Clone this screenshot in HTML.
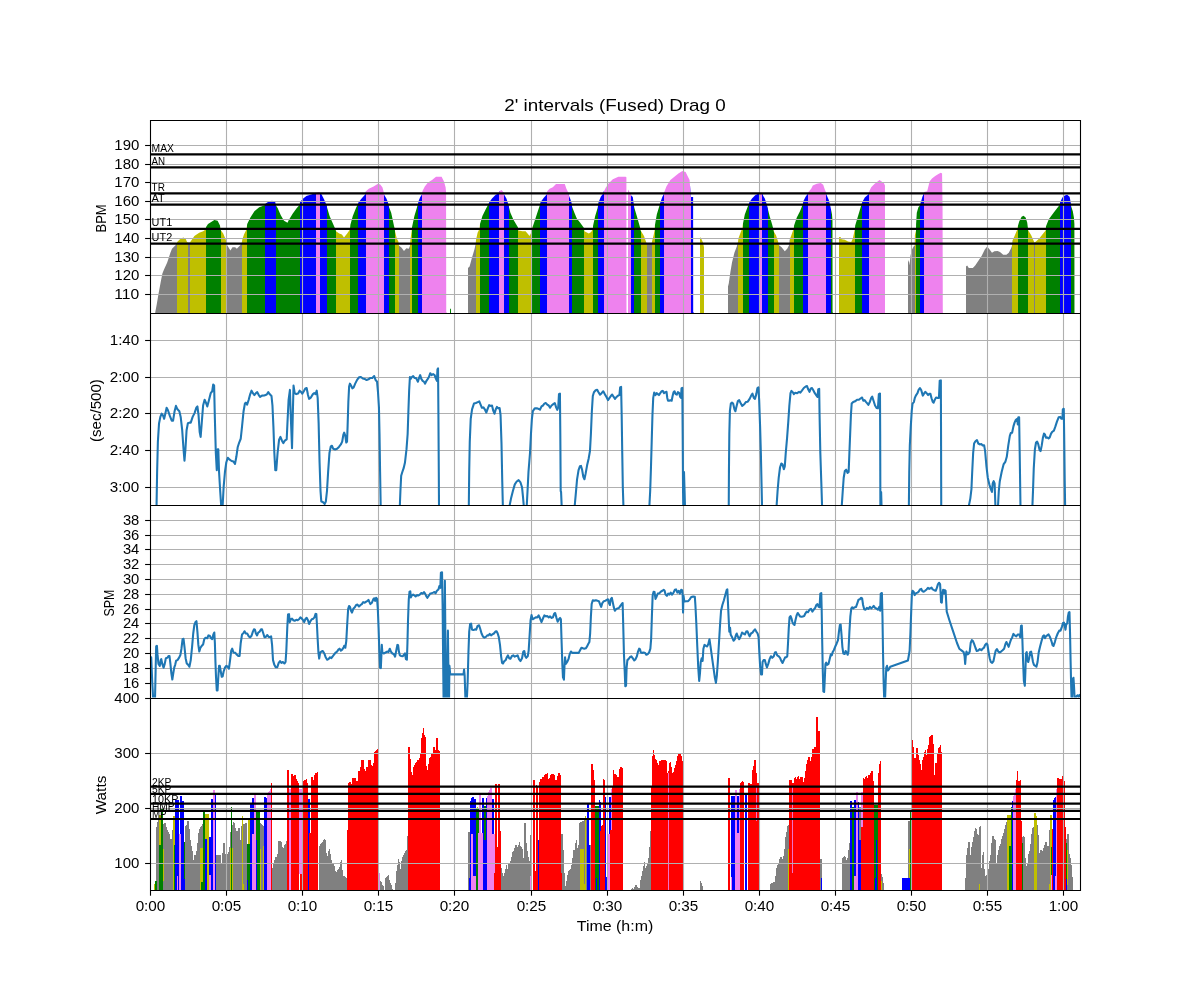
<!DOCTYPE html>
<html><head><meta charset="utf-8"><title>2' intervals (Fused) Drag 0</title>
<style>html,body{margin:0;padding:0;background:#fff}svg{display:block;will-change:transform}</style></head>
<body>
<svg width="1200" height="1000" viewBox="0 0 1200 1000" font-family="Liberation Sans, sans-serif">
<rect width="1200" height="1000" fill="#fff"/>
<defs>
<clipPath id="c0"><rect x="150" y="120" width="930" height="192.5"/></clipPath>
<clipPath id="c1"><rect x="150" y="312.5" width="930" height="192.5"/></clipPath>
<clipPath id="c2"><rect x="150" y="505" width="930" height="192.5"/></clipPath>
<clipPath id="c3"><rect x="150" y="697.5" width="930" height="192.5"/></clipPath>
<clipPath id="hr"><path d="M155.2 313 L155.2 312.6 L156.8 304 L158.4 294.4 L160.8 281.6 L162.4 273.6 L164 269.6 L167.2 262.4 L170.4 252.8 L172 248.8 L176 244.8 L177.6 241.6 L180 239.2 L183.2 237.6 L185.6 238.4 L187.2 242.4 L189.92 242.4 L194.4 236 L199.2 232.8 L203.2 231.2 L205.6 229.6 L205.92 227.2 L208 224 L212 221.6 L214.4 220 L217.6 220.8 L220 225.6 L220.32 229.6 L223.2 233.6 L225.92 240 L226.4 244 L228 246.4 L230.4 250.4 L232.48 247.2 L235.2 247.2 L236.8 248.8 L240 245.6 L241.6 243.2 L242.4 239.2 L244 234.4 L246.4 229.6 L247.2 224 L250.4 217.6 L254.4 211.2 L259.2 207.2 L264.8 205.28 L265.6 203.52 L268 201.92 L272 200.8 L275.2 201.92 L276 205.6 L277.6 208 L280.8 215.2 L284 220.8 L287.52 222.72 L288.8 220 L292.8 213.6 L296.8 208 L299.68 204.8 L300 201.92 L303.2 198.4 L306.4 196 L311.2 194.4 L316 192.8 L319.2 192 L321.6 194.4 L324 199.2 L326.4 204.8 L327.2 208 L329.6 216 L332 221.6 L334.88 228 L336 231.2 L339.2 233.6 L341.92 234.4 L344 237.6 L347.2 233.6 L349.92 229.6 L350.4 224.8 L352.8 216 L356 208 L357.92 204 L358.4 202.4 L361.6 198.4 L365.6 193.92 L365.92 191.2 L368.8 188.8 L373.6 186.4 L377.6 184 L380 184.32 L382.4 187.2 L383.52 191.2 L384 194.4 L386.4 198.4 L388 202.4 L388.8 206.4 L391.2 212.8 L393.6 224 L394.4 228 L395.2 232 L396.8 238.4 L398.4 241.6 L398.88 245.6 L401.6 247.68 L404 250.88 L406.4 248.32 L408.8 248.8 L410.08 245.6 L410.4 240 L411.52 232 L412 227.2 L414.4 216 L416.8 208 L418.08 203.2 L418.4 201.6 L420 197.6 L421.92 194.4 L422.4 191.2 L424.8 186.4 L428 182.4 L432 180 L436 176.8 L441.6 176.8 L444 181.6 L445.6 187.2 L446.08 192 L446.24 312.6 L449.76 312.6 L449.92 308.8 L450.88 308.8 L451.04 312.6 L467.84 312.6 L468 268 L469.6 266.4 L472 257.6 L474.4 249.6 L475.68 244 L476 240 L477.6 232.8 L479.52 228.8 L480 224 L482.4 216 L485.6 209.6 L488.48 204 L489.12 202.4 L492 198.4 L495.2 195.2 L498.88 192.8 L499.36 191.2 L501.6 189.92 L503.2 192 L503.52 193.6 L506.4 198.4 L508 203.2 L508.8 206.4 L510.4 212.8 L513.6 220 L517.92 227.2 L518.4 230.4 L522.4 231.2 L525.6 231.2 L529.6 236 L531.52 232 L532.32 228.8 L532.8 226.4 L535.2 219.2 L538.4 209.6 L540.48 203.2 L540.96 201.6 L544 197.6 L546.72 194.4 L547.2 191.2 L549.6 188.8 L552.8 187.2 L556 184 L564.8 184 L566.4 188.8 L568 192 L568.48 194.4 L570.4 199.2 L571.68 203.2 L572 206.4 L574.4 212.8 L576.8 218.4 L580 222.4 L584 228 L584.48 231.2 L588.8 233.6 L591.2 232 L592.8 228.8 L593.12 225.6 L595.2 216 L597.6 208 L598.4 204 L598.88 201.6 L600.8 196.8 L603.2 193.6 L603.68 191.2 L604 191.2 L605.6 188 L608.8 183.2 L612.8 179.2 L618.4 176.8 L625.6 176.8 L626.4 177.28 L626.48 312.6 L627.92 312.6 L628 189.6 L630.88 194.4 L631.2 195.52 L632.8 197.12 L634.08 206.4 L634.4 208 L636.8 216 L640 227.2 L640.48 230.4 L641.12 231.2 L644 236 L645.92 241.6 L646.4 243.52 L651.68 243.52 L652 241.6 L653.6 235.2 L654.56 230.4 L654.88 225.6 L656.8 214.4 L659.2 206.4 L660 203.2 L660.32 202.4 L662.4 196.8 L663.68 194.4 L664 192.8 L666.4 186.4 L670.4 180 L674.4 176.8 L678.4 173.6 L682.4 170.88 L685.6 172 L687.2 175.2 L689.6 180 L690.4 190.4 L690.48 197.12 L693.12 197.12 L693.2 312.6 L699.6 312.6 L699.68 238.4 L700.48 237.28 L701.92 240 L703.2 243.2 L704 247.2 L704.08 312.6 L727.92 312.6 L728 286.4 L728.8 283.2 L730.4 272 L732 262.4 L734.4 252.8 L736.8 246.4 L738.08 241.6 L738.4 238.4 L740.8 232 L742.4 228 L742.88 224 L744.8 214.4 L747.2 208 L748.8 204 L749.28 202.4 L752 198.4 L755.2 195.2 L758.4 193.6 L758.72 192.8 L761.6 192.8 L762.4 193.28 L762.4 194.4 L764.8 198.4 L766.88 204.8 L767.2 206.4 L769.6 216 L772 224 L773.28 228.8 L773.6 231.2 L776 235.2 L778.08 241.6 L778.4 244.8 L781.6 247.2 L784.8 251.2 L787.2 248.8 L789.28 244.8 L789.6 240 L792 233.6 L793.6 228.8 L794.08 225.6 L796.8 217.6 L800 211.2 L802.88 204 L803.2 201.6 L805.6 196.8 L808 193.6 L808.48 192 L811.2 188.8 L812.8 185.6 L816.8 183.68 L820.8 182.88 L823.2 184.8 L824.8 189.6 L825.92 192 L826.4 194.4 L828.8 200 L830.4 206.4 L830.72 208 L832 214.4 L832.48 220.8 L832.56 312.6 L838.8 312.6 L838.88 237.12 L840.8 237.28 L841.6 239.2 L844.8 239.68 L848 241.6 L851.2 241.92 L852.8 238.4 L853.92 233.6 L854.88 228.8 L855.2 225.6 L857.6 217.6 L860 209.6 L861.6 204 L862.08 202.4 L864.8 197.6 L868.8 193.92 L869.28 191.2 L871.2 187.2 L874.4 184 L877.6 181.6 L879.52 180 L881.6 181.6 L884 183.2 L884.96 185.6 L885.04 312.6 L907.92 312.6 L908 262.4 L908.8 260 L909.6 265.6 L910.4 256 L912 249.6 L913.6 246.4 L914.72 245.6 L914.88 235.2 L916 230.4 L916.08 224 L916.8 212.8 L918.4 207.2 L920.48 204.8 L920.8 202.4 L922.4 196.8 L924 193.28 L924.32 192 L927.2 191.2 L929.6 181.6 L932 178.4 L935.2 176 L938.4 174.08 L940.8 172.8 L942.08 173.6 L942.56 208 L942.8 312.6 L965.84 312.6 L965.92 266.4 L967.2 265.6 L968.8 268 L972.8 268 L975.2 265.6 L978.4 260.8 L981.6 256 L984.8 249.6 L987.2 246.4 L989.6 249.6 L992 252.8 L994.4 251.2 L997.6 250.88 L1000 252 L1003.2 254.72 L1006.4 254.72 L1008.8 252.8 L1011.2 248 L1012.32 244.8 L1012.8 240 L1015.2 234.4 L1017.28 229.6 L1017.76 226.4 L1019.2 221.6 L1021.6 216.8 L1023.52 215.68 L1025.6 217.6 L1027.2 222.4 L1028 228.8 L1028.32 230.4 L1031.2 235.2 L1034.4 242.4 L1036 241.6 L1039.2 238.4 L1043.2 233.6 L1045.6 230.4 L1045.92 226.4 L1048.8 219.2 L1053.6 212.8 L1058.4 206.4 L1059.68 204.8 L1060 202.4 L1062.4 197.6 L1064.8 195.52 L1067.2 194.72 L1069.6 196.8 L1070.88 203.2 L1071.2 206.4 L1072.8 211.2 L1073.92 217.6 L1074.4 224 L1074.48 312.6 L1074.48 313 Z"/></clipPath>
</defs>
<g clip-path="url(#hr)" shape-rendering="crispEdges">
<rect x="155.2" y="120" width="21.9" height="193" fill="#808080"/>
<rect x="187.2" y="120" width="3.02" height="193" fill="#808080"/>
<rect x="226.08" y="120" width="15.82" height="193" fill="#808080"/>
<rect x="398.72" y="120" width="11.66" height="193" fill="#808080"/>
<rect x="468" y="120" width="8.3" height="193" fill="#808080"/>
<rect x="646.24" y="120" width="5.74" height="193" fill="#808080"/>
<rect x="727.92" y="120" width="10.46" height="193" fill="#808080"/>
<rect x="778.4" y="120" width="11.5" height="193" fill="#808080"/>
<rect x="907.92" y="120" width="7.26" height="193" fill="#808080"/>
<rect x="965.84" y="120" width="46.94" height="193" fill="#808080"/>
<rect x="1033.92" y="120" width="1.26" height="193" fill="#808080"/>
<rect x="176.8" y="120" width="10.7" height="193" fill="#bfbf00"/>
<rect x="189.92" y="120" width="16.3" height="193" fill="#bfbf00"/>
<rect x="220.32" y="120" width="6.06" height="193" fill="#bfbf00"/>
<rect x="241.6" y="120" width="5.58" height="193" fill="#bfbf00"/>
<rect x="335.2" y="120" width="15.02" height="193" fill="#bfbf00"/>
<rect x="394.4" y="120" width="4.62" height="193" fill="#bfbf00"/>
<rect x="410.08" y="120" width="1.9" height="193" fill="#bfbf00"/>
<rect x="476" y="120" width="4.3" height="193" fill="#bfbf00"/>
<rect x="518.08" y="120" width="14.54" height="193" fill="#bfbf00"/>
<rect x="584.16" y="120" width="9.26" height="193" fill="#bfbf00"/>
<rect x="640.48" y="120" width="6.06" height="193" fill="#bfbf00"/>
<rect x="651.68" y="120" width="3.34" height="193" fill="#bfbf00"/>
<rect x="699.6" y="120" width="4.78" height="193" fill="#bfbf00"/>
<rect x="738.08" y="120" width="4.94" height="193" fill="#bfbf00"/>
<rect x="773.28" y="120" width="5.42" height="193" fill="#bfbf00"/>
<rect x="789.6" y="120" width="4.62" height="193" fill="#bfbf00"/>
<rect x="838.8" y="120" width="16.38" height="193" fill="#bfbf00"/>
<rect x="914.72" y="120" width="1.58" height="193" fill="#bfbf00"/>
<rect x="1012.48" y="120" width="5.58" height="193" fill="#bfbf00"/>
<rect x="1028" y="120" width="6.22" height="193" fill="#bfbf00"/>
<rect x="1034.88" y="120" width="11.34" height="193" fill="#bfbf00"/>
<rect x="205.92" y="120" width="14.7" height="193" fill="#008000"/>
<rect x="246.88" y="120" width="18.54" height="193" fill="#008000"/>
<rect x="276" y="120" width="23.98" height="193" fill="#008000"/>
<rect x="326.4" y="120" width="9.1" height="193" fill="#008000"/>
<rect x="349.92" y="120" width="8.3" height="193" fill="#008000"/>
<rect x="388.32" y="120" width="6.38" height="193" fill="#008000"/>
<rect x="411.68" y="120" width="6.7" height="193" fill="#008000"/>
<rect x="449.76" y="120" width="1.58" height="193" fill="#008000"/>
<rect x="480" y="120" width="9.1" height="193" fill="#008000"/>
<rect x="508.32" y="120" width="10.06" height="193" fill="#008000"/>
<rect x="532.32" y="120" width="8.46" height="193" fill="#008000"/>
<rect x="572" y="120" width="12.46" height="193" fill="#008000"/>
<rect x="593.12" y="120" width="5.58" height="193" fill="#008000"/>
<rect x="634.08" y="120" width="6.7" height="193" fill="#008000"/>
<rect x="654.72" y="120" width="5.58" height="193" fill="#008000"/>
<rect x="742.72" y="120" width="6.54" height="193" fill="#008000"/>
<rect x="767.2" y="120" width="6.38" height="193" fill="#008000"/>
<rect x="793.92" y="120" width="9.26" height="193" fill="#008000"/>
<rect x="830.72" y="120" width="2.14" height="193" fill="#008000"/>
<rect x="854.88" y="120" width="7.18" height="193" fill="#008000"/>
<rect x="916" y="120" width="4.78" height="193" fill="#008000"/>
<rect x="1017.76" y="120" width="10.54" height="193" fill="#008000"/>
<rect x="1045.92" y="120" width="13.9" height="193" fill="#008000"/>
<rect x="1071.04" y="120" width="3.74" height="193" fill="#008000"/>
<rect x="265.12" y="120" width="11.18" height="193" fill="#0000ff"/>
<rect x="299.68" y="120" width="0.62" height="193" fill="#0000ff"/>
<rect x="300" y="120" width="16.3" height="193" fill="#0000ff"/>
<rect x="320" y="120" width="6.7" height="193" fill="#0000ff"/>
<rect x="357.92" y="120" width="7.98" height="193" fill="#0000ff"/>
<rect x="384" y="120" width="4.62" height="193" fill="#0000ff"/>
<rect x="418.08" y="120" width="4.3" height="193" fill="#0000ff"/>
<rect x="488.8" y="120" width="10.7" height="193" fill="#0000ff"/>
<rect x="503.2" y="120" width="5.42" height="193" fill="#0000ff"/>
<rect x="540.48" y="120" width="6.7" height="193" fill="#0000ff"/>
<rect x="568.32" y="120" width="3.98" height="193" fill="#0000ff"/>
<rect x="598.4" y="120" width="5.58" height="193" fill="#0000ff"/>
<rect x="630.88" y="120" width="3.5" height="193" fill="#0000ff"/>
<rect x="660" y="120" width="4.14" height="193" fill="#0000ff"/>
<rect x="690.48" y="120" width="3.02" height="193" fill="#0000ff"/>
<rect x="748.96" y="120" width="9.9" height="193" fill="#0000ff"/>
<rect x="762.08" y="120" width="0.62" height="193" fill="#0000ff"/>
<rect x="762.08" y="120" width="5.42" height="193" fill="#0000ff"/>
<rect x="802.88" y="120" width="5.58" height="193" fill="#0000ff"/>
<rect x="826.08" y="120" width="4.94" height="193" fill="#0000ff"/>
<rect x="861.76" y="120" width="7.5" height="193" fill="#0000ff"/>
<rect x="920.48" y="120" width="3.82" height="193" fill="#0000ff"/>
<rect x="1059.52" y="120" width="11.82" height="193" fill="#0000ff"/>
<rect x="316" y="120" width="4.3" height="193" fill="#ee82ee"/>
<rect x="365.6" y="120" width="18.7" height="193" fill="#ee82ee"/>
<rect x="422.08" y="120" width="24.46" height="193" fill="#ee82ee"/>
<rect x="499.2" y="120" width="4.3" height="193" fill="#ee82ee"/>
<rect x="546.88" y="120" width="21.74" height="193" fill="#ee82ee"/>
<rect x="603.68" y="120" width="0.62" height="193" fill="#ee82ee"/>
<rect x="604" y="120" width="22.78" height="193" fill="#ee82ee"/>
<rect x="627.92" y="120" width="3.26" height="193" fill="#ee82ee"/>
<rect x="663.84" y="120" width="26.94" height="193" fill="#ee82ee"/>
<rect x="758.56" y="120" width="3.82" height="193" fill="#ee82ee"/>
<rect x="808.16" y="120" width="18.22" height="193" fill="#ee82ee"/>
<rect x="868.96" y="120" width="16.38" height="193" fill="#ee82ee"/>
<rect x="924" y="120" width="19.1" height="193" fill="#ee82ee"/>
</g>
<g clip-path="url(#c3)" shape-rendering="crispEdges">
<path d="M155.8 890.5 L155.8 827.8 L157 826.6 L157.6 820.6 L158.8 819.4 L158.8 890.5 Z" fill="#808080"/>
<path d="M163.36 890.5 L163.36 824.2 L164.2 823 L165.4 823 L166 825.4 L167.2 829 L168.4 831.4 L169.6 833.8 L170.2 838.6 L171.4 841 L172 830.2 L172.84 830.2 L172.84 890.5 Z" fill="#808080"/>
<path d="M184.96 890.5 L184.96 826.6 L186.4 826 L187 821.2 L188.8 821.2 L189.4 826.6 L190 837.4 L191.2 844.6 L192.4 849.4 L193.36 861.4 L194.2 855.4 L196 854.2 L197.2 847 L198.4 833.8 L199.6 829 L200.8 826.6 L202 825.4 L202.96 823 L202.96 890.5 Z" fill="#808080"/>
<path d="M216.04 890.5 L216.04 855.4 L220.6 855.4 L220.84 863.8 L222.16 863.8 L222.4 855.4 L223 843.4 L224.8 843.4 L225.04 853 L226 854.2 L227.2 853 L228.16 855.4 L229 848.2 L229.6 847 L230.2 832.6 L230.8 831.4 L230.8 890.5 Z" fill="#808080"/>
<path d="M232.24 890.5 L232.24 826.6 L232.96 822.4 L234.4 822.4 L235 825.4 L236.2 831.4 L238 831.4 L238.6 827.8 L239.8 827.8 L240.4 839.8 L241 839.8 L241.36 826.6 L241.96 825.4 L241.96 890.5 Z" fill="#808080"/>
<path d="M243.16 890.5 L243.16 824.2 L244.6 824.2 L245.2 823 L246.64 823 L247.12 843.4 L247.12 890.5 Z" fill="#808080"/>
<path d="M260.2 890.5 L260.2 823 L261.4 824.2 L262.96 825.4 L263.2 845.8 L263.2 890.5 Z" fill="#808080"/>
<path d="M259.8 890.5 L259.8 823 L261.6 824.2 L263.4 825.4 L263.76 826 L263.76 890.5 Z" fill="#808080"/>
<path d="M272.16 890.5 L272.16 868.6 L273 866.2 L274.2 861.4 L275.4 857.2 L276.6 856.6 L277.8 853 L278.4 841 L281.4 841 L282 844.6 L283.2 849.4 L284.16 845.8 L285.36 844.6 L286.2 841 L286.8 840.4 L286.8 890.5 Z" fill="#808080"/>
<path d="M318.6 890.5 L318.6 851.8 L318.96 849.4 L319.8 844.6 L321.6 843.4 L323.4 840.4 L324.6 839.2 L325.8 839.8 L326.4 853 L327.6 856.6 L328.8 849.4 L330 848.8 L330.84 857.8 L331.8 861.4 L333 865 L334.2 863.8 L334.8 868.6 L336 872.2 L337.8 869.8 L339.6 866.8 L340.8 860.8 L341.76 860.2 L342.24 867.4 L343.2 875.8 L345 876.4 L346.2 877 L346.8 879.4 L346.8 890.5 Z" fill="#808080"/>
<path d="M379.76 890.5 L379.76 889 L380 881.2 L381.2 881.2 L382.16 884.8 L383.36 885.4 L384.2 889.6 L384.8 889.6 L385.4 877.6 L387.2 877 L388.4 874.6 L389 877 L390.2 883 L391.4 884.8 L392.6 889 L393.2 890.2 L393.2 890.5 Z" fill="#808080"/>
<path d="M395 890.5 L395 890.2 L395.36 884.8 L396.2 873.4 L397.4 866.2 L398.24 858.4 L398.96 859 L399.8 863.8 L400.4 869.8 L401 863.8 L402.2 857.8 L403.4 854.8 L404.6 852.4 L405.8 850 L407 849.64 L407.24 836.2 L407.96 836.2 L407.96 890.5 Z" fill="#808080"/>
<rect x="468.16" y="832" width="1.68" height="58.5" fill="#808080"/>
<path d="M501.16 890.5 L501.16 890.2 L501.4 867.4 L502.24 869.8 L502.96 877 L503.8 875.8 L505 871 L506.2 866.2 L507.04 864.4 L507.4 869.8 L508 863.8 L509.2 863.2 L510.4 861.4 L511.6 856.6 L512.8 851.2 L514 850.6 L514.6 847 L515.2 845.2 L516.4 844.6 L517 847 L518.2 847 L518.8 842.8 L520 842.2 L520.6 847 L522.4 847 L523 857.8 L523.6 857.8 L524.2 823.6 L525.76 823 L526.24 840.4 L527.2 849.4 L528.4 856.6 L529.6 861.4 L530.2 835 L530.8 834.4 L531.4 890.2 L531.4 890.5 Z" fill="#808080"/>
<rect x="561.76" y="833.8" width="1.68" height="56.7" fill="#808080"/>
<path d="M563.44 890.5 L563.44 849.4 L564.16 859 L564.64 877 L565.36 886.6 L566.2 885.4 L567.4 878.2 L568.6 871 L569.44 871 L570.4 869.8 L571.6 867.4 L572.8 859 L574 849.4 L575.2 850 L576.16 840.4 L577 840.4 L577.6 849.4 L578.8 849.4 L579.4 823 L580 823 L580 890.5 Z" fill="#808080"/>
<rect x="561.44" y="833.8" width="1.56" height="56.7" fill="#808080"/>
<path d="M563 890.5 L563 849.4 L563.6 859 L564.2 877 L564.8 886.6 L565.76 885.4 L566.96 878.2 L568.16 871 L569 871 L569.96 869.8 L571.16 867.4 L572.36 859 L573.56 849.4 L574.76 850 L575.72 840.4 L576.56 840.4 L577.16 849.4 L578.36 849.4 L578.96 832.6 L579.8 823 L581 821.8 L582.8 821.2 L584.6 820 L585.8 819.4 L586.64 819.4 L586.64 890.5 Z" fill="#808080"/>
<rect x="589.04" y="844.6" width="1.92" height="45.9" fill="#808080"/>
<path d="M631.4 890.5 L631.4 889.6 L632.6 888.4 L633.8 889 L635 885.4 L636.2 884.8 L637.4 887.2 L638.6 888.4 L639.8 887.8 L640.4 880.6 L641.6 875.8 L642.8 869.8 L644 862.6 L644.6 861.4 L645.44 868 L646.4 866.8 L647.6 863.8 L648.8 856.6 L649.76 843.4 L650.6 829 L651.2 829 L651.2 890.5 Z" fill="#808080"/>
<path d="M699.76 890.5 L699.76 890.2 L700 881.8 L700.96 881.2 L701.8 883.6 L702.64 886 L703.6 890.2 L703.6 890.5 Z" fill="#808080"/>
<path d="M769.84 890.5 L769.84 890.2 L770.2 884.2 L772 883 L773.44 881.8 L774.4 883 L775.36 877 L776.8 866.2 L778.6 863.8 L779.8 857.8 L781 857.2 L781.84 860.2 L782.8 857.8 L784 855.4 L785.2 842.2 L786.4 832.6 L787.6 825.4 L788.8 824.8 L788.8 890.5 Z" fill="#808080"/>
<path d="M780 890.5 L780 857.8 L781.8 857.2 L782.4 860.2 L783.6 856.6 L784.8 847 L785.4 837.4 L786.6 832.6 L787.8 825.4 L788.64 824.8 L789 824.8 L789 890.5 Z" fill="#808080"/>
<rect x="820.2" y="859" width="1.8" height="31.5" fill="#808080"/>
<path d="M842.04 890.5 L842.04 890.2 L842.16 857.8 L843.6 856.6 L845.4 856 L846 860.2 L847.2 860.2 L848.16 854.2 L849 844.6 L849.96 842.2 L850.32 842.2 L850.32 890.5 Z" fill="#808080"/>
<rect x="859.44" y="806.8" width="1.2" height="33.6" fill="#808080"/>
<path d="M881.04 890.5 L881.04 874.6 L882 874 L882.96 879.4 L884.16 887.8 L884.64 890.2 L884.64 890.5 Z" fill="#808080"/>
<rect x="908" y="821.2" width="2.16" height="69.3" fill="#808080"/>
<path d="M965.24 890.5 L965.24 890.2 L965.36 883 L966.2 856.6 L967.4 849.4 L968.24 842.2 L969.8 842.2 L970.16 859 L971 849.4 L972.2 843.4 L973.4 837.4 L974.6 830.2 L975.44 828.4 L976.64 829 L977.6 835 L978.8 835 L979.04 826.6 L980.6 826.36 L980.96 847 L981.44 869.8 L982.16 856.6 L983 851.8 L983.84 852.4 L984.2 866.2 L985.4 875.8 L986.36 874 L986.96 877 L987.8 869.8 L988.64 868.6 L989.36 861.4 L990.8 860.8 L991.76 847 L992.24 836.2 L993.44 836.2 L994.4 838.6 L995.6 839.8 L996.2 869.8 L996.8 859 L998 853 L999.2 847 L1000.4 844.6 L1001.6 838.6 L1003.4 833.8 L1004.6 829 L1005.8 824.2 L1007 821.2 L1008.2 820.6 L1008.2 890.5 Z" fill="#808080"/>
<path d="M990 890.5 L990 861.4 L991.2 847 L992.16 836.2 L993.36 836.2 L994.56 838.6 L995.76 839.8 L996.24 869.8 L996.96 859 L998.16 853 L999.36 847 L1000.56 844.6 L1001.76 838.6 L1003.56 833.8 L1004.76 829 L1005.96 824.2 L1007.16 821.2 L1008 820.6 L1008 890.5 Z" fill="#808080"/>
<path d="M1022.4 890.5 L1022.4 836.8 L1023.6 836.2 L1024.8 836.8 L1025.4 856.6 L1026 863.8 L1027.2 868.6 L1028.16 854.2 L1029 853.6 L1030.2 847 L1031.4 835 L1032.6 827.8 L1033.8 826.6 L1033.8 890.5 Z" fill="#808080"/>
<path d="M1037.4 890.5 L1037.4 823 L1038 832.6 L1038.6 835 L1039.2 854.2 L1040.16 850.6 L1041.36 850 L1042.2 851.8 L1043.4 848.2 L1044.6 844.6 L1045.44 842.2 L1046.64 842.2 L1047.6 846.4 L1048.8 845.8 L1049.16 830.2 L1050 829.6 L1050 890.5 Z" fill="#808080"/>
<path d="M1066.2 890.5 L1066.2 843.4 L1066.8 834.4 L1068.6 833.8 L1068.96 849.4 L1069.8 856.6 L1070.64 857.8 L1071.6 866.2 L1072.56 877 L1073.04 890.2 L1073.04 890.5 Z" fill="#808080"/>
<rect x="154" y="884.2" width="1.44" height="6.3" fill="#bfbf00"/>
<rect x="158.8" y="814.6" width="2.04" height="30.6" fill="#bfbf00"/>
<rect x="163" y="848.8" width="0.96" height="31.8" fill="#bfbf00"/>
<rect x="172.84" y="816.4" width="1.8" height="74.1" fill="#bfbf00"/>
<rect x="199.84" y="848.2" width="3.12" height="42.3" fill="#bfbf00"/>
<rect x="205.36" y="814" width="3.6" height="76.5" fill="#bfbf00"/>
<rect x="229.6" y="848.2" width="1.2" height="42.3" fill="#bfbf00"/>
<rect x="232.36" y="848.2" width="0.84" height="42.3" fill="#bfbf00"/>
<rect x="241.96" y="815.8" width="1.2" height="74.7" fill="#bfbf00"/>
<rect x="242.2" y="883.6" width="1.8" height="6.9" fill="#bfbf00"/>
<rect x="248.2" y="820" width="1.44" height="24" fill="#bfbf00"/>
<rect x="259" y="816.4" width="1.2" height="74.1" fill="#bfbf00"/>
<rect x="260.2" y="848.8" width="1.2" height="41.7" fill="#bfbf00"/>
<rect x="262.56" y="845.8" width="1.08" height="44.7" fill="#bfbf00"/>
<rect x="259.2" y="816.4" width="0.96" height="74.1" fill="#bfbf00"/>
<rect x="477.4" y="807.4" width="0.96" height="38.4" fill="#bfbf00"/>
<rect x="584.84" y="816.4" width="1.32" height="74.1" fill="#bfbf00"/>
<rect x="579.8" y="849.4" width="4.2" height="41.1" fill="#bfbf00"/>
<rect x="584" y="884.2" width="2.16" height="6.3" fill="#bfbf00"/>
<rect x="595.64" y="811" width="0.96" height="33.6" fill="#bfbf00"/>
<rect x="788.2" y="849.4" width="0.84" height="41.1" fill="#bfbf00"/>
<rect x="787.8" y="850.6" width="0.84" height="39.9" fill="#bfbf00"/>
<rect x="881.04" y="880.6" width="0.96" height="9.9" fill="#bfbf00"/>
<rect x="908.6" y="849.4" width="1.8" height="28.8" fill="#bfbf00"/>
<rect x="978.8" y="884.2" width="1.2" height="6.3" fill="#bfbf00"/>
<rect x="1006.8" y="815.2" width="3.84" height="75.3" fill="#bfbf00"/>
<path d="M1033.8 890.5 L1033.8 813.4 L1035.6 813.16 L1036.8 816.4 L1037.4 817 L1037.4 890.5 Z" fill="#bfbf00"/>
<rect x="1049.76" y="815.2" width="2.4" height="75.3" fill="#bfbf00"/>
<rect x="1048.8" y="883.6" width="1.2" height="6.9" fill="#bfbf00"/>
<rect x="1067.16" y="850" width="1.08" height="35.4" fill="#bfbf00"/>
<rect x="154.96" y="881.2" width="2.04" height="9.3" fill="#008000"/>
<rect x="158.8" y="845.2" width="2.04" height="45.3" fill="#008000"/>
<rect x="160.84" y="809.2" width="2.52" height="81.3" fill="#008000"/>
<rect x="174.04" y="845.2" width="0.96" height="45.3" fill="#008000"/>
<rect x="184" y="842.2" width="0.96" height="37.2" fill="#008000"/>
<rect x="202.96" y="809.8" width="2.4" height="80.7" fill="#008000"/>
<rect x="200.8" y="881.8" width="4.2" height="8.7" fill="#008000"/>
<rect x="230.8" y="807.4" width="1.44" height="83.1" fill="#008000"/>
<rect x="247.12" y="844" width="2.88" height="46.5" fill="#008000"/>
<rect x="256.36" y="811" width="3.24" height="79.5" fill="#008000"/>
<rect x="270.96" y="879.4" width="1.2" height="11.1" fill="#008000"/>
<rect x="475.96" y="808.6" width="3" height="81.9" fill="#008000"/>
<rect x="484" y="806.2" width="1.8" height="33.6" fill="#008000"/>
<rect x="595.4" y="806.2" width="3.6" height="84.3" fill="#008000"/>
<rect x="852" y="806.8" width="2.04" height="83.7" fill="#008000"/>
<rect x="874.2" y="805" width="3.36" height="85.5" fill="#008000"/>
<rect x="909.8" y="811" width="1.32" height="79.5" fill="#008000"/>
<rect x="1008.96" y="846.4" width="1.68" height="44.1" fill="#008000"/>
<rect x="1010.64" y="807.4" width="1.44" height="83.1" fill="#008000"/>
<rect x="1022.16" y="843.4" width="1.2" height="47.1" fill="#008000"/>
<rect x="1050.6" y="847" width="1.2" height="43.5" fill="#008000"/>
<rect x="1066.2" y="843.4" width="1.2" height="47.1" fill="#008000"/>
<rect x="175" y="799.6" width="3.96" height="90.9" fill="#0000ff"/>
<rect x="179.8" y="796" width="2.16" height="94.5" fill="#0000ff"/>
<rect x="181.96" y="800.8" width="2.04" height="89.7" fill="#0000ff"/>
<rect x="184" y="879.4" width="1.2" height="11.1" fill="#0000ff"/>
<rect x="205" y="839.2" width="2.4" height="51.3" fill="#0000ff"/>
<rect x="208.96" y="837.4" width="2.4" height="53.1" fill="#0000ff"/>
<rect x="211" y="799" width="2.4" height="91.5" fill="#0000ff"/>
<rect x="214.96" y="795.4" width="1.2" height="95.1" fill="#0000ff"/>
<rect x="247" y="880" width="1.2" height="10.5" fill="#0000ff"/>
<rect x="249.76" y="802.6" width="2.4" height="87.9" fill="#0000ff"/>
<rect x="252.16" y="797.8" width="2.04" height="92.7" fill="#0000ff"/>
<rect x="256.24" y="840.4" width="1.2" height="50.1" fill="#0000ff"/>
<path d="M264 890.5 L264 799 L264.6 797.2 L266.4 797.2 L267 799 L267 890.5 Z" fill="#0000ff"/>
<path d="M308.4 890.5 L308.4 799.6 L309 798.76 L309.84 799.6 L310.2 800.8 L310.2 890.5 Z" fill="#0000ff"/>
<rect x="308.2" y="799.25" width="2.1" height="91.25" fill="#0000ff"/>
<path d="M469.84 890.5 L469.84 802.6 L470.56 800.8 L471.76 797.2 L472.96 796.6 L474.16 798.4 L475.6 799 L476.2 800.8 L476.2 890.5 Z" fill="#0000ff"/>
<rect x="468.64" y="878.2" width="2.16" height="12.3" fill="#0000ff"/>
<rect x="481.96" y="798.4" width="2.04" height="41.4" fill="#0000ff"/>
<rect x="483.4" y="839.8" width="2.52" height="50.7" fill="#0000ff"/>
<rect x="485.8" y="798.4" width="1.32" height="92.1" fill="#0000ff"/>
<rect x="492.4" y="799" width="1.8" height="34.8" fill="#0000ff"/>
<rect x="537.16" y="840.4" width="1.56" height="50.1" fill="#0000ff"/>
<rect x="538" y="840.4" width="0.72" height="50.1" fill="#0000ff"/>
<rect x="587" y="803.8" width="2.04" height="86.7" fill="#0000ff"/>
<rect x="587" y="844.6" width="3" height="45.9" fill="#0000ff"/>
<path d="M598.64 890.5 L598.64 800.8 L599.36 800.2 L600.2 801.4 L601.16 803.8 L601.16 890.5 Z" fill="#0000ff"/>
<rect x="605" y="797.2" width="1.2" height="93.3" fill="#0000ff"/>
<rect x="608.6" y="796.6" width="2.4" height="93.9" fill="#0000ff"/>
<rect x="596" y="878.2" width="1.2" height="12.3" fill="#0000ff"/>
<rect x="605.6" y="877" width="1.2" height="13.5" fill="#0000ff"/>
<rect x="730.96" y="796" width="3.84" height="94.5" fill="#0000ff"/>
<rect x="736.24" y="796" width="3" height="38.4" fill="#0000ff"/>
<rect x="737.92" y="834.4" width="1.2" height="41.4" fill="#0000ff"/>
<rect x="745" y="795.4" width="2.16" height="95.1" fill="#0000ff"/>
<rect x="821.28" y="878.2" width="0.72" height="12.3" fill="#0000ff"/>
<rect x="849.96" y="801.4" width="2.04" height="89.1" fill="#0000ff"/>
<rect x="853.8" y="800.2" width="2.16" height="90.3" fill="#0000ff"/>
<rect x="858" y="802" width="1.2" height="88.5" fill="#0000ff"/>
<rect x="858.6" y="840.4" width="2.4" height="50.1" fill="#0000ff"/>
<rect x="876" y="840.4" width="0.96" height="50.1" fill="#0000ff"/>
<rect x="874.56" y="878.2" width="2.04" height="12.3" fill="#0000ff"/>
<rect x="901.76" y="877.96" width="8.4" height="12.54" fill="#0000ff"/>
<rect x="1011.84" y="801.4" width="1.32" height="89.1" fill="#0000ff"/>
<path d="M1053 890.5 L1053 800.8 L1054.2 797.8 L1055.4 796.96 L1056.24 797.2 L1056.24 890.5 Z" fill="#0000ff"/>
<rect x="1066.2" y="879.4" width="1.2" height="11.1" fill="#0000ff"/>
<rect x="178.96" y="833.8" width="2.28" height="56.7" fill="#ee82ee"/>
<rect x="176.8" y="876.4" width="1.2" height="14.1" fill="#ee82ee"/>
<rect x="212.8" y="790" width="2.4" height="100.5" fill="#ee82ee"/>
<rect x="208.96" y="875.2" width="2.04" height="15.3" fill="#ee82ee"/>
<rect x="254.2" y="793" width="1.8" height="97.5" fill="#ee82ee"/>
<rect x="252.16" y="833.8" width="4.2" height="56.7" fill="#ee82ee"/>
<path d="M267 890.5 L267 793.6 L267.36 793 L268.8 791.8 L270 790 L270.6 789.4 L270.6 890.5 Z" fill="#ee82ee"/>
<rect x="289.44" y="789.16" width="1.2" height="101.34" fill="#ee82ee"/>
<rect x="299.4" y="789.4" width="2.4" height="84.24" fill="#ee82ee"/>
<rect x="289" y="790.25" width="1.5" height="100.25" fill="#ee82ee"/>
<rect x="378.8" y="873.4" width="0.96" height="17.1" fill="#ee82ee"/>
<rect x="471.04" y="833.8" width="2.4" height="56.7" fill="#ee82ee"/>
<rect x="473.44" y="875.8" width="2.16" height="14.7" fill="#ee82ee"/>
<rect x="478.96" y="793.24" width="2.04" height="97.26" fill="#ee82ee"/>
<rect x="478" y="833.2" width="5.4" height="57.3" fill="#ee82ee"/>
<path d="M487 890.5 L487 798.4 L488.2 793 L489.4 790 L490.6 788.2 L491.8 787.6 L492.4 799 L492.4 890.5 Z" fill="#ee82ee"/>
<rect x="492.4" y="833.8" width="2.4" height="56.7" fill="#ee82ee"/>
<rect x="529.96" y="875.8" width="1.08" height="14.7" fill="#ee82ee"/>
<rect x="611.2" y="789.5" width="1.5" height="101" fill="#ee82ee"/>
<rect x="611" y="789.4" width="1.44" height="101.1" fill="#ee82ee"/>
<rect x="608" y="833.8" width="1.8" height="56.7" fill="#ee82ee"/>
<rect x="735.4" y="790" width="1.56" height="100.5" fill="#ee82ee"/>
<rect x="734.56" y="833.2" width="5.04" height="57.3" fill="#ee82ee"/>
<rect x="730.96" y="877" width="1.44" height="13.5" fill="#ee82ee"/>
<rect x="738.76" y="788.8" width="1.2" height="101.7" fill="#ee82ee"/>
<rect x="855.96" y="792.4" width="2.04" height="98.1" fill="#ee82ee"/>
<rect x="860.64" y="792.4" width="1.92" height="34.2" fill="#ee82ee"/>
<rect x="854.16" y="876.4" width="3.84" height="14.1" fill="#ee82ee"/>
<rect x="876.6" y="832.6" width="0.84" height="40.8" fill="#ee82ee"/>
<path d="M1013.04 890.5 L1013.04 796.6 L1014.6 795.4 L1014.72 788.8 L1015.8 788.44 L1015.8 890.5 Z" fill="#ee82ee"/>
<rect x="1050.96" y="875.2" width="1.2" height="15.3" fill="#ee82ee"/>
<rect x="1054.8" y="876.4" width="1.44" height="14.1" fill="#ee82ee"/>
<rect x="1055.76" y="789.4" width="1.2" height="101.1" fill="#ee82ee"/>
<rect x="270.6" y="783.4" width="1.2" height="107.1" fill="#ff0000"/>
<rect x="346.8" y="848.2" width="1.44" height="42.3" fill="#ff0000"/>
<rect x="347.4" y="830.2" width="0.84" height="60.3" fill="#ff0000"/>
<rect x="286.75" y="770" width="2.25" height="120.5" fill="#ff0000"/>
<path d="M290.95 890.5 L290.95 774.5 L292 773.75 L293.2 773.75 L293.5 776 L294.25 775.25 L295.75 775.25 L296.2 778.25 L297.25 780.5 L298 782.75 L299.05 783.5 L299.2 788 L299.2 890.5 Z" fill="#ff0000"/>
<rect x="299.5" y="873.5" width="2.4" height="17" fill="#ff0000"/>
<path d="M303.25 890.5 L303.25 782 L304 779.75 L305.5 779.75 L306.25 778.7 L307 780.5 L307.75 784.25 L308.2 785 L308.2 890.5 Z" fill="#ff0000"/>
<rect x="308.65" y="832.55" width="2.1" height="57.95" fill="#ff0000"/>
<path d="M310.75 890.5 L310.75 777.5 L312.7 777.2 L313.3 782 L314.2 775.25 L315.7 773 L317.5 772.25 L318.25 773 L318.4 774.5 L318.4 890.5 Z" fill="#ff0000"/>
<path d="M347.8 890.5 L347.8 782.75 L350.5 782.3 L350.8 785 L351.7 783.5 L352 778.25 L355.75 778.25 L356.2 780.5 L357.7 780.5 L358 771.5 L360.25 770.75 L361 760.25 L363.7 759.8 L364.3 768.5 L365.5 771.5 L366.25 767 L367.75 766.7 L368.5 760.25 L370.45 759.8 L371.2 764.75 L373.3 766.7 L374.05 752.75 L376 749.75 L377.8 749.3 L378.1 755 L378.25 758 L378.25 890.5 Z" fill="#ff0000"/>
<path d="M407.95 890.5 L407.95 747.2 L409.9 747.2 L410.2 755 L411.25 770 L412.3 777.5 L413.2 767 L414.25 765.5 L415 763.25 L416.5 762.5 L417.25 760.25 L418.75 759.5 L419.5 758 L420.7 753.5 L421 738.5 L422.2 737 L422.8 729.5 L423.55 728.3 L424.3 734 L425.2 737 L425.95 737.75 L426.25 765.5 L427.45 770 L428.2 766.25 L429.25 758 L430.45 757.25 L431.2 753.5 L432.7 753.2 L433 747.2 L434.8 746.75 L435.25 749.75 L436 749.3 L436.3 738.2 L437.8 737.9 L438.25 749.3 L439 750.5 L440.05 751.25 L440.2 753.5 L440.2 890.5 Z" fill="#ff0000"/>
<rect x="495.16" y="784" width="1.8" height="106.5" fill="#ff0000"/>
<rect x="497.8" y="784" width="2.16" height="106.5" fill="#ff0000"/>
<rect x="493.96" y="873.4" width="1.2" height="17.1" fill="#ff0000"/>
<rect x="499.96" y="831.4" width="0.84" height="59.1" fill="#ff0000"/>
<rect x="496.96" y="847" width="0.84" height="43.5" fill="#ff0000"/>
<rect x="532.96" y="779.8" width="2.04" height="110.7" fill="#ff0000"/>
<rect x="532.96" y="871" width="4.44" height="19.5" fill="#ff0000"/>
<rect x="536.56" y="785.8" width="1.44" height="104.7" fill="#ff0000"/>
<rect x="532.75" y="780.05" width="2.25" height="110.45" fill="#ff0000"/>
<rect x="535.75" y="784.55" width="1.2" height="105.95" fill="#ff0000"/>
<path d="M539.2 890.5 L539.2 782.75 L540.25 779.3 L541.75 779 L542.5 777.2 L544 776.75 L544.75 773.75 L547.75 773.45 L548.2 779 L549.7 778.25 L550.75 774.5 L553.75 773.75 L554.8 776 L556 782 L557.2 776.75 L558.25 773.3 L559.75 773 L560.5 777.5 L561.25 779 L561.25 890.5 Z" fill="#ff0000"/>
<path d="M590.8 890.5 L590.8 764.75 L591.7 764 L592.75 764.3 L593.5 770 L594.25 777.5 L594.7 782 L594.7 890.5 Z" fill="#ff0000"/>
<path d="M602.8 890.5 L602.8 780.2 L603.7 779.3 L604.75 780.5 L605.05 783.5 L605.05 890.5 Z" fill="#ff0000"/>
<path d="M612.7 890.5 L612.7 770 L613.45 769.25 L614.2 773.75 L616 774.5 L617.2 776.75 L618.7 776.75 L619.3 769.25 L620.5 767.3 L622 767 L622.9 769.25 L623.2 771.5 L623.2 890.5 Z" fill="#ff0000"/>
<path d="M652 890.5 L652 758 L652.75 755 L653.2 749.75 L653.95 749.3 L654.4 755 L655.75 759.5 L657.25 760.25 L658 769.25 L658.75 762.5 L659.8 761 L661.75 760.25 L664 759.95 L666.25 760.25 L667 761.75 L667.45 773 L668.5 771.5 L669.7 761.75 L670.75 761.75 L671.5 767 L673 776 L673.75 770 L674.95 766.25 L676 764 L676.75 759.5 L677.8 754.25 L679 752.75 L681.25 753.2 L682 761 L682.9 761.75 L683.2 764 L683.2 890.5 Z" fill="#ff0000"/>
<rect x="560" y="775" width="1.44" height="115.5" fill="#ff0000"/>
<rect x="561.44" y="873.4" width="0.96" height="17.1" fill="#ff0000"/>
<rect x="590.96" y="787" width="4.44" height="103.5" fill="#ff0000"/>
<path d="M600.2 890.5 L600.2 832.6 L601.4 826 L602.6 825.4 L602.66 787 L605 787 L605 890.5 Z" fill="#ff0000"/>
<rect x="609.8" y="829.6" width="2.64" height="60.9" fill="#ff0000"/>
<rect x="612.44" y="787" width="10.56" height="103.5" fill="#ff0000"/>
<rect x="650.6" y="827.8" width="29.4" height="62.7" fill="#ff0000"/>
<rect x="651.44" y="787" width="28.56" height="103.5" fill="#ff0000"/>
<rect x="670" y="787" width="12.96" height="103.5" fill="#ff0000"/>
<rect x="727.95" y="778.2" width="2.25" height="112.3" fill="#ff0000"/>
<path d="M740.25 890.5 L740.25 783 L741.3 781.8 L742.8 781.2 L744 782.25 L744 890.5 Z" fill="#ff0000"/>
<path d="M747.75 890.5 L747.75 783.3 L749.25 782.55 L750.75 783.75 L751.8 784.5 L751.95 771 L753.3 768 L754.2 760.5 L756 759.75 L756.45 765 L756.6 783.75 L757.5 783 L758.7 782.7 L759 784.5 L759 890.5 Z" fill="#ff0000"/>
<path d="M788.7 890.5 L788.7 780.75 L789.75 779.7 L791.7 780 L792.3 783 L793.5 782.7 L793.95 777.75 L795.75 777.45 L796.2 781.5 L796.8 776.7 L798.75 776.4 L799.2 780 L800.25 777.45 L802.5 777.45 L803.25 782.25 L804.3 780 L805.2 773.25 L806.25 765 L807.3 760.5 L808.5 757.2 L809.7 757.2 L810.45 761.7 L811.8 756 L812.25 749.25 L813.75 748.8 L814.5 747.45 L815.7 747 L816 717.3 L817.8 717 L818.25 730.5 L819.75 730.8 L820.2 750 L820.2 890.5 Z" fill="#ff0000"/>
<path d="M862.5 890.5 L862.5 780 L862.95 778.05 L864 777.75 L864.75 779.25 L865.2 776.7 L866.7 776.25 L867.45 777.75 L868.2 774.75 L869.25 774.3 L870 775.8 L870.75 771.3 L872.7 771 L873.3 780.75 L874.05 781.5 L874.05 890.5 Z" fill="#ff0000"/>
<path d="M877.5 890.5 L877.5 780 L878.25 777 L879 766.5 L880.2 760.8 L880.95 761.25 L881.4 768 L881.4 890.5 Z" fill="#ff0000"/>
<rect x="788.64" y="787" width="31.56" height="103.5" fill="#ff0000"/>
<rect x="862.56" y="787" width="11.64" height="103.5" fill="#ff0000"/>
<rect x="861.36" y="826.6" width="1.44" height="63.9" fill="#ff0000"/>
<rect x="877.8" y="787" width="3.24" height="103.5" fill="#ff0000"/>
<rect x="911.36" y="787" width="30.84" height="103.5" fill="#ff0000"/>
<path d="M911.33 890.5 L911.33 743.33 L912 739.17 L913 740 L913.67 749.17 L914.5 758 L915.83 757.5 L916.17 748.33 L917.83 748 L918.33 754.17 L919.67 760.83 L920.83 765.83 L921.67 770.83 L922.5 760 L923.83 755.83 L924.67 750.83 L925.5 750 L926.17 759.17 L927 750 L928.33 746.67 L929.17 737.5 L930.83 735.33 L932.83 735 L933.33 744.17 L934 745 L934.5 775 L935.33 763.33 L936.67 762.5 L937.5 754.17 L938.33 748.33 L939.67 746.33 L940.67 745.33 L941.33 751.67 L942 753.33 L942.17 755 L942.17 890.5 Z" fill="#ff0000"/>
<path d="M1015.83 890.5 L1015.83 780.83 L1016.67 780 L1017.17 771.67 L1017.83 771.33 L1018.33 780 L1018.83 783.33 L1019.67 780.33 L1020.83 780.33 L1021.17 783.33 L1021.17 890.5 Z" fill="#ff0000"/>
<path d="M1056.67 890.5 L1056.67 778.33 L1058.33 777.83 L1059.67 779.17 L1061.67 778.83 L1062.5 776.33 L1063.33 779.17 L1063.83 780 L1064.67 780.83 L1065 783.33 L1065 890.5 Z" fill="#ff0000"/>
<rect x="1015.8" y="787" width="5.4" height="103.5" fill="#ff0000"/>
<rect x="1015.8" y="820.6" width="6.36" height="69.9" fill="#ff0000"/>
<rect x="1051.8" y="829" width="1.2" height="61.5" fill="#ff0000"/>
<rect x="1056.96" y="787" width="8.04" height="103.5" fill="#ff0000"/>
<rect x="1064.16" y="826.6" width="2.04" height="63.9" fill="#ff0000"/>
<rect x="668" y="773" width="1" height="117.5" fill="#f070c8"/>
<rect x="792" y="786" width="1" height="87" fill="#f070c8"/>
<rect x="756" y="787" width="1" height="34" fill="#f070c8"/>
</g>
<g stroke="#b0b0b0" stroke-width="1.1" fill="none">
<path d="M226.5 121V890"/>
<path d="M302.5 121V890"/>
<path d="M378.5 121V890"/>
<path d="M454.5 121V890"/>
<path d="M531.5 121V890"/>
<path d="M607.5 121V890"/>
<path d="M683.5 121V890"/>
<path d="M759.5 121V890"/>
<path d="M835.5 121V890"/>
<path d="M911.5 121V890"/>
<path d="M987.5 121V890"/>
<path d="M1063.5 121V890"/>
<path d="M151 294.5H1080"/>
<path d="M151 275.5H1080"/>
<path d="M151 257.5H1080"/>
<path d="M151 238.5H1080"/>
<path d="M151 219.5H1080"/>
<path d="M151 201.5H1080"/>
<path d="M151 182.5H1080"/>
<path d="M151 164.5H1080"/>
<path d="M151 145.5H1080"/>
<path d="M151 340.5H1080"/>
<path d="M151 377.5H1080"/>
<path d="M151 413.5H1080"/>
<path d="M151 450.5H1080"/>
<path d="M151 487.5H1080"/>
<path d="M151 520.5H1080"/>
<path d="M151 535.5H1080"/>
<path d="M151 549.5H1080"/>
<path d="M151 564.5H1080"/>
<path d="M151 579.5H1080"/>
<path d="M151 594.5H1080"/>
<path d="M151 609.5H1080"/>
<path d="M151 623.5H1080"/>
<path d="M151 638.5H1080"/>
<path d="M151 653.5H1080"/>
<path d="M151 668.5H1080"/>
<path d="M151 683.5H1080"/>
<path d="M151 753.5H1080"/>
<path d="M151 808.5H1080"/>
<path d="M151 863.5H1080"/>
</g>
<path d="M156.55 505.25 L157.12 472 L157.88 441.6 L159.02 423.55 L160.35 416.9 L161.68 413.67 L163.2 415.95 L164.15 418.8 L165.48 413.1 L166.62 407.78 L167.95 410.25 L169.85 415.95 L171.75 420.7 L173.08 420.7 L174.6 411.2 L175.93 405.88 L177.45 409.3 L179.35 411.2 L180.68 416.9 L182.2 430.2 L183.53 449.2 L184.48 460.6 L185.43 449.2 L186.57 430.2 L187.9 423.17 L189.42 422.6 L190.75 422.6 L192.65 416.9 L194.55 413.1 L196.45 407.4 L197.4 406.45 L198.54 415 L199.68 432.1 L200.63 436.85 L201.77 422.6 L203.1 405.5 L204.62 399.8 L205.95 402.65 L207.28 406.45 L208.8 400.75 L210.7 393.15 L212.22 391.25 L213.17 384.6 L214.12 385.55 L214.88 418.8 L215.83 453 L216.78 470.1 L217.73 449.2 L218.3 449.2 L219.06 472 L220.2 491 L221.15 505.25M222.67 505.25 L223.62 487.2 L224.95 472 L226.28 462.5 L227.8 457.75 L229.7 459.65 L231.6 460.98 L233.5 461.55 L235.02 463.83 L236.35 456.8 L237.68 447.3 L239.2 442.55 L240.72 438.75 L242.05 426.4 L243.57 411.2 L244.9 403.6 L245.85 402.65 L247.18 404.55 L248.7 399.8 L250.22 394.1 L251.55 390.68 L252.88 393.15 L254.4 395.05 L255.92 393.15 L257.25 392.2 L258.77 395.05 L260.1 396.95 L262 395.62 L264.28 395.43 L266.75 394.48 L268.27 392.2 L269.6 394.1 L271.5 396 L272.45 405.5 L273.4 426.4 L274.35 453 L275.3 470.1 L276.25 470.1 L277.58 453 L279.1 439.7 L280.43 436.85 L281.95 440.65 L283.28 443.12 L284.8 440.65 L286.7 439.32 L287.65 418.8 L288.6 399.8 L289.93 389.92 L290.88 418.8 L292.02 448.25 L292.78 415 L293.54 385.55 L294.68 393.15 L296.2 394.1 L298.1 393.53 L299.62 390.68 L300.95 391.82 L302.28 393.72 L303.8 391.25 L305.32 388.4 L306.65 388.02 L307.98 395.05 L309.12 398.85 L311.02 397.33 L312.92 394.1 L314.25 393.15 L315.58 394.1 L316.72 390.68 L317.67 397.9 L318.62 422.6 L319.57 462.5 L320.52 491 L321.28 501.45 L322.8 502.02 L324.7 503.92 L325.84 501.45 L326.98 491 L328.12 472 L329.45 453 L330.78 446.35 L331.92 445.78 L333.25 448.82 L335.15 449.58 L337.05 448.82 L338.95 446.92 L340.85 444.45 L342.18 441.6 L343.32 434.95 L344.18 432.67 L345.32 435.9 L346.27 442.55 L347.03 441.6 L347.6 426.4 L348.36 401.7 L349.12 386.5 L349.88 383.65 L351.02 385.55 L352.35 388.4 L353.68 387.45 L355.2 383.65 L357.1 379.85 L359 377.38 L360.9 377 L362.8 378.52 L364.7 378.9 L366.6 380.04 L368.5 379.28 L370.4 377.95 L372.3 377.95 L374.2 376.05 L375.53 379.85 L377.05 381.75 L378 392.2 L378.95 407.4 L379.52 434 L380.09 472 L380.66 505.25M399.85 505.25 L400.42 491 L401.18 475.8 L402.32 472 L403.65 468.2 L404.98 462.5 L406.5 449.2 L407.64 434 L408.4 411.2 L409.16 390.3 L409.92 377 L410.68 378.9 L411.82 377 L413.15 376.05 L414.48 377.95 L416 377.95 L416.95 379.85 L417.9 381.75 L419.04 377.95 L420.18 375.1 L421.32 378.9 L422.65 380.8 L423.98 381.75 L425.12 383.65 L426.45 380.8 L427.78 378.9 L428.92 377 L430.25 373.2 L431.58 375.1 L433.1 374.15 L434.62 375.1 L435.95 378.9 L436.9 380.8 L437.47 369.4 L438.04 368.45 L438.42 415 L438.8 472 L438.99 505.25M468.82 505.25 L469.2 472 L469.77 441.6 L470.72 418.8 L472.05 409.3 L473.95 403.6 L475.85 403.03 L477.75 402.08 L479.27 401.32 L480.6 404.55 L481.93 407.78 L483.45 407.4 L484.78 409.3 L486.3 412.53 L487.82 408.35 L489.15 405.12 L490.67 405.88 L492 405.5 L493.14 410.25 L494.47 413.67 L495.8 409.3 L496.94 406.83 L498.27 408.35 L499.6 407.97 L500.55 415 L501.5 443.5 L502.26 481.5 L502.83 505.25M509.67 505.25 L511 498.6 L512.9 491 L514.8 484.35 L516.7 481.5 L518.6 480.17 L520.5 482.45 L522.02 487.2 L522.97 496.7 L523.73 505.25M526.77 505.25 L527.53 491 L528.48 472 L530 453 L530.95 434 L531.9 418.8 L532.85 411.2 L534.75 408.35 L537.32 408.35 L538.65 408.92 L539.98 409.68 L541.5 406.45 L543.02 405.5 L544.35 403.6 L545.68 403.03 L547.2 404.55 L548.72 405.5 L550.05 407.78 L551.57 405.5 L553.28 404.17 L554.8 403.03 L556.13 407.4 L557.27 409.87 L558.22 407.4 L558.98 394.1 L559.93 393.53 L560.31 434 L560.69 491 L561.07 491.95 L561.64 505.25M574.75 505.25 L575.7 494.8 L577.03 479.6 L578.55 470.1 L579.88 466.3 L581.02 465.92 L582.16 470.1 L583.3 476.75 L584.44 479.22 L585.58 473.9 L587.1 465.35 L588.62 458.7 L589.95 451.1 L590.9 434 L591.85 411.2 L592.8 396 L593.94 392.2 L595.65 390.3 L597.17 389.73 L598.5 392.2 L600.02 394.67 L601.54 393.15 L603.25 391.25 L604.77 394.1 L606.48 396.95 L608 400.18 L609.52 397.9 L610.85 396 L612.18 394.48 L613.7 396.95 L615.03 398.85 L616.55 396.95 L618.07 395.62 L619.4 395.05 L620.16 387.45 L621.11 386.88 L621.68 415 L622.25 453 L622.82 487.2 L623.39 505.25M649.42 505.25 L650.18 491 L650.94 468.2 L651.7 441.6 L652.46 415 L653.22 397.9 L654.17 392.58 L655.5 395.05 L656.64 393.15 L657.78 394.1 L658.92 395.05 L660.25 393.15 L661.58 391.25 L662.72 390.87 L664.05 393.15 L665.38 392.2 L666.52 391.82 L667.28 397.9 L668.04 400.75 L669.18 400.75 L670.32 400.18 L671.65 400.75 L672.6 396 L673.55 392.2 L674.5 391.25 L675.64 394.1 L676.78 394.67 L677.92 392.2 L679.25 393.15 L680.2 396.95 L680.96 397.9 L681.53 388.4 L682.29 387.83 L682.67 434 L683.05 491 L683.24 505.25 L683.43 472 L684 472 L684.57 491 L684.95 505.25M728.75 505.25 L728.94 472 L729.32 434 L729.89 411.2 L730.84 403.6 L731.98 402.65 L733.12 403.6 L734.45 409.3 L735.4 411.2 L736.73 405.5 L737.87 401.13 L739.2 400.18 L740.72 403.22 L742.24 405.88 L743.95 404.55 L745.85 402.08 L747.75 401.7 L749.65 398.85 L751.17 395.62 L752.5 393.72 L753.83 397.9 L754.97 398.85 L756.3 394.1 L757.44 388.02 L758.39 387.45 L759.15 399.8 L760.1 426.4 L760.86 453 L761.62 487.2 L762 505.25M776.63 505.25 L777.58 491 L778.72 477.7 L780.05 467.25 L781.38 463.45 L782.52 464.4 L783.85 469.15 L784.8 466.3 L785.75 453 L787.08 437.8 L788.22 422.6 L789.36 405.5 L790.5 393.15 L791.45 390.87 L792.78 392.2 L793.92 394.1 L795.25 392.77 L797.15 393.15 L799.05 391.82 L800.38 392.58 L801.9 390.68 L803.8 388.02 L805.7 386.5 L807.03 386.12 L808.17 389.35 L809.5 391.82 L810.83 388.4 L811.97 388.02 L813.3 390.3 L814.82 393.15 L816.15 395.05 L817.48 396.95 L818.24 389.35 L819.19 388.78 L819.57 415 L820.33 453 L821.28 481.5 L822.04 505.25M841.8 505.25 L842.75 491 L843.7 477.7 L844.84 471.05 L846.17 469.72 L847.5 472.95 L848.64 472 L849.4 453 L850.16 434 L850.92 415 L851.68 403.6 L853.2 402.08 L855.1 401.32 L857 399.8 L858.9 399.8 L860.8 398.28 L862.13 397.52 L863.27 400.75 L864.6 400.18 L866.12 402.08 L867.45 403.6 L868.4 404.93 L869.92 401.7 L871.25 397.9 L872.2 396.57 L873.53 400.75 L875.05 405.5 L876.57 407.97 L877.9 408.35 L878.85 394.1 L879.99 393.53 L880.18 434 L880.37 505.25 L880.56 491.95 L881.13 491.95 L881.51 505.25M908.87 505.25 L909.25 472 L909.82 445.4 L910.77 426.4 L911.72 411.2 L912.54 403.6 L913.87 402.08 L914.82 397.9 L916.15 395.05 L917.48 393.15 L918.62 389.92 L919.95 388.02 L921.28 390.3 L922.8 395.62 L924.32 393.15 L925.27 391.82 L926.6 393.15 L928.12 395.05 L929.45 393.72 L930.4 393.72 L931.54 398.28 L932.68 401.7 L933.63 402.65 L934.77 399.8 L936.1 397.52 L937.62 397.9 L938.95 397.9 L939.71 380.8 L940.85 380.42 L941.04 434 L941.23 505.25M968.97 505.25 L970.3 498.6 L971.44 489.1 L972.2 472 L973.15 453 L974.1 443.5 L975.43 441.22 L976.95 440.08 L978.28 443.5 L979.8 444.45 L981.32 444.07 L982.65 445.4 L984.17 445.4 L985.12 451.1 L986.45 466.3 L987.78 477.7 L989.3 484.35 L990.82 489.1 L991.96 491.95 L992.72 483.4 L993.67 481.12 L994.62 483.4 L995.38 505.25M998.04 505.25 L998.8 491 L999.75 481.5 L1001.65 472 L1003.55 464.4 L1005.45 461.55 L1006.78 456.8 L1008.3 445.4 L1009.82 435.9 L1010.77 433.05 L1012.1 432.67 L1013.43 426.4 L1014.57 422.6 L1015.9 419.75 L1017.23 418.8 L1017.8 424.5 L1018.37 417.28 L1019.13 417.28 L1019.7 453 L1020.46 505.25M1032.43 505.25 L1033 491 L1033.76 468.2 L1034.9 449.2 L1036.04 442.55 L1037.18 441.6 L1038.32 444.45 L1039.65 450.15 L1040.6 451.1 L1041.74 445.4 L1042.88 437.8 L1044.02 433.62 L1044.97 434.57 L1045.92 437.8 L1047.25 437.42 L1048.58 438.37 L1049.72 437.42 L1051.05 433.62 L1052.38 431.72 L1053.9 430.58 L1055.42 426.4 L1056.94 421.65 L1058.65 417.28 L1060.17 416.9 L1061.5 418.8 L1062.45 418.8 L1062.83 409.3 L1063.78 408.73 L1064.16 434 L1064.73 481.5 L1065.11 505.25" fill="none" stroke="#1f77b4" stroke-width="2.08" stroke-linejoin="round" stroke-linecap="butt" clip-path="url(#c1)"/>
<path d="M150.47 657.25 L151.23 657.25 L152.18 681 L153.13 698.1 L155.03 698.1 L155.6 671.5 L156.17 646.42 L156.93 645.85 L157.5 654.4 L158.45 663.9 L159.78 665.8 L160.73 660.1 L161.3 659.15 L162.25 663.9 L163.58 667.7 L164.72 663.9 L165.86 658.2 L167.38 657.82 L168.52 655.92 L169.47 655.92 L170.42 663.9 L171.37 673.4 L172.32 679.48 L173.27 673.4 L174.22 667.7 L175.17 664.85 L176.12 660.67 L177.45 660.1 L178.78 658.2 L180.3 655.35 L181.44 648.7 L182.58 639.2 L183.53 638.82 L184.48 646.8 L185.62 658.2 L186.76 663.52 L188.28 664.85 L189.42 666.75 L190.75 660.1 L192.08 646.8 L193.22 633.5 L194.36 624.95 L195.5 622.1 L196.45 621.15 L197.4 631.6 L198.35 644.9 L199.3 651.55 L200.44 647.75 L201.77 645.85 L203.1 644.52 L204.24 639.2 L205.57 637.68 L207.28 638.25 L208.42 635.4 L209.75 635.78 L211.08 638.25 L212.22 639.2 L213.36 634.45 L214.31 632.55 L214.88 643 L215.45 662 L216.02 677.2 L216.78 690.5 L217.54 690.5 L218.3 677.2 L219.06 665.8 L219.82 665.8 L220.77 671.5 L221.72 676.82 L222.67 676.25 L223.62 671.5 L224.95 667.7 L226.28 665.8 L227.8 666.75 L228.94 668.65 L230.08 660.1 L231.22 650.6 L232.17 648.7 L233.5 652.5 L235.4 652.88 L236.92 654.78 L238.25 655.92 L239.58 655.92 L240.72 643 L242.05 634.45 L243.38 633.12 L244.52 631.22 L245.85 633.5 L247.18 633.5 L248.7 636.35 L250.22 637.3 L251.55 635.78 L252.88 631.6 L254.02 629.32 L254.97 629.7 L255.92 633.5 L257.06 635.4 L258.2 632.55 L259.72 631.6 L261.05 629.32 L262 629.32 L263.33 633.5 L264.47 637.3 L265.8 636.92 L267.32 635.02 L268.65 636.92 L270.17 636.92 L271.12 636.35 L272.07 644.9 L273.02 660.1 L274.35 664.85 L275.68 667.32 L277.2 667.32 L278.72 662.95 L280.05 661.05 L281.38 662.95 L282.9 662 L284.42 663.52 L285.56 662 L286.32 650.6 L287.27 627.8 L288.03 614.5 L288.98 614.12 L289.74 622.1 L290.88 619.25 L292.02 618.68 L293.35 620.2 L294.68 620.77 L296.2 619.82 L297.72 620.2 L299.05 619.25 L300.38 617.35 L301.52 618.3 L302.85 619.82 L304.18 622.1 L305.32 619.25 L306.65 617.73 L307.98 620.2 L309.12 624 L310.45 621.15 L311.78 619.25 L313.3 618.68 L314.44 617.35 L315.58 613.93 L316.34 614.12 L316.91 624 L317.67 639.2 L318.43 652.5 L319.19 658.58 L320.14 652.5 L321.47 651.55 L322.8 650.98 L324.32 653.45 L325.65 657.25 L327.17 659.72 L328.5 659.15 L330.02 657.25 L331.35 658.2 L332.68 656.3 L334.2 654.4 L335.72 652.5 L337.05 651.55 L338.38 649.65 L339.52 648.7 L340.85 650.6 L342.18 649.65 L343.7 647.18 L344.18 645.85 L345.32 647.75 L346.27 641.1 L347.22 624 L348.17 608.8 L349.12 605.95 L350.07 606.9 L351.02 610.7 L351.97 612.6 L353.3 608.8 L354.82 607.28 L356.15 605 L357.48 604.62 L359 606.52 L360.52 605 L361.85 604.05 L363.18 602.15 L364.7 602.72 L366.22 601.58 L367.55 600.82 L368.5 599.87 L369.45 602.15 L370.4 604.05 L371.92 602.72 L373.25 599.3 L374.2 598.35 L375.15 600.82 L376.1 597.78 L377.05 598.92 L377.81 608.8 L378.57 627.8 L379.33 650.6 L380.09 667.7 L380.85 668.08 L381.42 654.4 L381.8 644.9 L382.37 652.5 L383.7 653.45 L385.6 652.5 L387.12 651.55 L388.45 652.12 L389.78 648.7 L390.92 651.55 L392.25 653.45 L393.77 654.02 L395.1 656.68 L396.24 650.6 L397.38 644.9 L398.14 645.28 L398.9 651.55 L399.85 655.35 L401.18 655.92 L402.7 656.3 L404.03 654.78 L404.98 653.45 L405.93 659.15 L406.88 659.72 L407.45 643 L408.02 620.2 L408.78 599.3 L409.54 591.7 L410.3 591.32 L410.87 597.4 L411.82 595.5 L413.15 594.55 L414.48 595.5 L415.62 596.45 L416.95 595.12 L418.47 595.5 L419.8 594.55 L421.32 593.03 L422.65 593.6 L423.98 592.08 L425.12 593.6 L426.45 596.45 L427.4 597.78 L428.92 595.5 L430.25 593.6 L431.58 593.22 L433.1 592.65 L434.43 592.08 L435.57 593.22 L436.9 590.75 L438.42 589.42 L439.37 586 L440.32 587.9 L440.89 572.7 L442.03 572.32 L442.6 605 L443.17 662 L443.55 698.1 L444.12 698.1 L444.5 624 L444.88 580.87 L445.26 624 L445.64 698.1 L446.78 698.1 L447.35 662 L447.92 630.65 L448.3 662 L448.68 698.1 L449.06 698.1 L449.44 665.8 L450.2 674.35 L463.5 674.35 L464.07 669.6 L464.64 675.3 L465.4 698.1 L466.92 698.1 L467.68 681 L468.44 652.5 L469.2 631.6 L470.15 624 L471.1 623.62 L472.05 629.7 L473.57 630.08 L474.9 629.32 L476.23 629.7 L477.56 625.9 L479.08 625.33 L480.22 628.75 L481.55 633.5 L482.88 636.35 L484.4 637.68 L485.92 636.92 L487.25 635.4 L488.58 635.4 L489.72 633.88 L491.05 635.4 L492.38 634.45 L493.9 633.5 L495.42 631.6 L496.56 631.22 L497.7 633.5 L498.84 637.3 L499.98 644.9 L501.12 656.3 L502.07 662.95 L503.02 663.52 L504.35 661.05 L505.68 660.1 L506.82 657.25 L507.96 655.35 L509.1 658.2 L510.43 658.77 L511.95 655.92 L513.28 655.35 L514.8 656.68 L516.32 655.92 L517.65 655.35 L518.98 659.15 L520.5 661.05 L522.02 658.2 L523.35 651.55 L524.3 650.98 L525.25 656.3 L526.2 657.82 L527.72 656.3 L528.67 650.6 L529.62 635.4 L530.57 620.2 L531.52 615.07 L532.66 619.25 L534.18 618.3 L535.7 617.35 L537.32 617.35 L538.65 615.45 L539.98 618.3 L541.5 622.1 L543.02 618.3 L544.35 615.45 L545.87 616.4 L547.2 616.02 L548.72 617.35 L550.05 616.4 L551.38 617.92 L552.9 617.35 L554.23 613.55 L555.18 612.98 L556.32 617.35 L557.65 621.72 L558.98 619.25 L560.12 617.92 L560.88 619.25 L561.64 643 L562.4 665.8 L562.97 677.2 L563.92 679.67 L564.49 665.8 L565.06 657.25 L565.82 663.9 L567.15 662 L568.48 659.15 L569.62 654.4 L570.95 651.55 L572.28 652.88 L574.75 652.88 L577.22 652.88 L578.74 652.88 L580.07 650.22 L581.4 647.75 L582.92 648.32 L584.25 648.7 L585.77 648.32 L587.1 646.42 L588.24 643.95 L589.38 642.05 L590.14 633.5 L590.9 616.4 L591.66 604.05 L592.8 600.25 L594.32 600.82 L595.84 600.25 L597.55 600.82 L598.88 601.2 L600.02 604.05 L601.16 606.9 L602.3 603.1 L603.82 601.2 L605.34 600.82 L606.67 599.87 L608 599.3 L608.95 603.1 L609.9 605 L610.66 599.3 L611.8 597.78 L612.75 602.15 L613.7 606.9 L614.84 610.7 L616.17 609.18 L617.5 608.42 L619.02 607.85 L620.35 605.95 L621.68 604.05 L622.63 603.1 L623.2 624 L623.96 654.4 L624.72 671.5 L625.29 686.32 L626.05 685.75 L626.62 667.7 L627.38 660.1 L628.52 659.15 L629.85 657.25 L631.37 656.3 L632.7 658.2 L634.22 660.48 L635.55 659.15 L636.88 656.3 L638.02 651.55 L639.16 648.7 L639.92 649.08 L640.87 652.5 L642.2 652.88 L643.72 652.5 L645.05 652.88 L646.38 654.78 L647.9 654.02 L649.23 652.12 L650.37 648.7 L651.13 639.2 L651.89 616.4 L652.65 595.5 L653.6 591.7 L654.55 592.08 L655.5 598.92 L656.64 596.45 L657.78 593.6 L659.3 593.22 L660.82 591.7 L662.34 590.75 L663.67 589.8 L664.62 590.75 L665.57 594.55 L666.9 595.88 L668.23 593.6 L669.37 594.55 L670.7 592.65 L672.03 594.55 L673.55 592.65 L674.88 589.8 L676.02 589.42 L677.35 592.65 L678.68 590.75 L679.82 593.6 L681.15 589.8 L682.1 590.18 L682.67 595.5 L683.05 612.6 L683.43 595.5 L684.38 601.58 L686.28 601.2 L688.18 601.2 L689.7 599.3 L691.22 597.02 L693.12 596.64 L694.83 596.83 L695.4 605 L696.35 624 L697.3 646.8 L698.25 667.7 L699.2 681 L699.96 673.4 L700.72 662 L701.67 658.2 L702.62 661.05 L703.38 648.7 L704.52 644.9 L705.85 645.85 L707.18 646.42 L708.32 643.95 L709.46 639.2 L710.6 646.8 L712.12 658.2 L713.45 667.7 L714.78 677.2 L715.92 682.9 L716.87 675.3 L717.82 662 L718.96 643 L720.1 624 L721.05 610.7 L722.38 605 L723.9 600.25 L725.42 594.55 L726.75 589.8 L727.32 589.42 L727.89 601.2 L728.75 620.2 L729.32 631.6 L730.08 627.8 L730.65 634.45 L731.98 636.92 L733.5 640.72 L734.83 639.2 L735.78 635.4 L736.73 633.5 L737.68 636.35 L739.2 639.2 L740.72 636.35 L742.05 632.55 L743.38 633.5 L744.9 634.45 L746.23 631.6 L747.37 631.22 L748.7 634.45 L749.65 636.35 L750.98 633.5 L752.5 632.55 L753.83 630.65 L754.97 629.32 L756.3 631.6 L757.63 633.5 L758.58 637.3 L759.34 652.5 L760.1 665.8 L761.05 674.35 L762 674.35 L762.57 662 L763.52 660.1 L764.85 660.1 L765.8 663.9 L766.94 667.32 L768.27 663.9 L769.6 659.15 L770.93 656.3 L772.26 657.82 L773.78 656.3 L774.92 652.5 L775.87 652.12 L777.2 655.35 L778.72 656.3 L780.05 657.82 L781.38 661.05 L782.52 662.95 L783.85 660.1 L785.18 657.25 L786.32 657.25 L787.27 656.3 L788.03 643 L788.79 627.8 L789.55 617.35 L790.5 616.02 L791.45 618.3 L792.4 622.1 L793.54 624.38 L794.49 624.95 L795.44 620.2 L796.58 615.45 L797.72 612.98 L798.86 614.5 L800 616.4 L801.52 616.78 L802.85 616.4 L804.18 616.02 L805.32 613.55 L806.65 611.65 L807.98 612.22 L809.5 609.75 L811.02 608.8 L812.35 611.65 L813.68 609.75 L815.2 607.85 L816.34 605 L817.48 604.05 L818.62 606.9 L819.57 607.28 L820.33 593.6 L821.28 593.03 L821.66 608.8 L822.23 643 L822.8 671.5 L823.37 691.45 L824.13 692.02 L824.7 681 L825.46 663.9 L826.22 662.57 L827.17 664.85 L828.5 663.9 L829.64 659.15 L830.78 654.4 L831.73 655.35 L832.68 652.12 L833.82 650.22 L835.15 646.8 L836.48 643.95 L838 640.15 L838.95 631.6 L839.9 624.95 L840.66 624.57 L841.42 633.5 L842.37 646.8 L843.32 653.45 L844.65 654.02 L845.6 650.98 L846.74 652.5 L847.69 654.78 L848.45 651.55 L849.4 631.6 L850.35 616.4 L851.3 608.42 L852.25 607.28 L853.2 608.42 L854.72 607.28 L856.05 606.9 L857.38 603.1 L858.52 599.68 L859.85 599.3 L861.18 597.78 L862.13 598.35 L863.08 605 L864.22 609.18 L865.55 609.75 L866.88 607.85 L868.4 608.8 L869.92 606.9 L871.25 608.42 L872.58 607.28 L873.72 605.95 L875.05 607.85 L876.38 608.42 L877.9 609.75 L879.23 606.9 L880.18 610.7 L880.75 593.6 L881.89 593.03 L882.46 616.4 L883.03 652.5 L883.6 681 L884.17 698.1 L885.12 698.1 L885.69 681 L886.26 667.7 L887.02 665.8 L887.78 670.55 L888.92 669.22 L890.25 666.75 L907.92 660.48 L908.68 656.3 L909.63 650.6 L910.39 633.5 L911.15 612.6 L911.91 593.6 L912.54 590.75 L913.68 591.7 L914.63 595.12 L915.96 593.22 L917.48 592.65 L918.62 591.7 L919.95 589.42 L921.28 588.85 L922.42 591.32 L923.75 591.7 L925.08 590.75 L926.6 589.42 L927.93 587.9 L929.26 588.85 L930.4 588.28 L931.54 587.52 L932.68 589.42 L934.2 590.18 L935.72 590.75 L936.86 587.9 L938 584.1 L939.14 582.77 L940.09 584.1 L940.66 593.6 L941.04 602.15 L941.8 602.72 L942.37 593.6 L943.13 589.8 L944.08 593.6 L944.84 590.18 L945.6 590.75 L946.17 601.2 L946.74 611.65 L949.4 620.2 L953.2 631.6 L957 643 L959.28 648.7 L961.75 650.6 L963.65 652.12 L964.6 656.3 L965.17 663.9 L965.93 654.4 L966.5 651.55 L967.64 654.4 L968.78 653.45 L969.73 651.55 L970.68 643 L971.82 640.15 L972.96 641.1 L974.1 643.95 L975.43 647.75 L976.76 650.98 L978.28 650.6 L979.8 649.08 L981.32 650.22 L982.65 648.7 L983.98 647.75 L985.12 644.9 L986.45 643.57 L987.4 644.52 L988.35 650.6 L989.68 658.2 L990.82 662 L992.15 662.95 L993.48 661.05 L994.62 655.35 L995.76 650.6 L996.9 649.08 L998.23 651.55 L999.75 652.5 L1001.08 651.55 L1002.6 650.22 L1004.12 648.7 L1005.45 643.95 L1006.4 642.05 L1007.73 644.9 L1008.68 646.8 L1009.82 643 L1011.15 639.2 L1012.1 637.68 L1013.43 633.88 L1014.76 635.4 L1016.28 636.35 L1017.8 634.45 L1019.13 634.45 L1020.27 637.3 L1021.03 625.9 L1021.79 625.52 L1022.36 639.2 L1023.12 662 L1023.88 681 L1024.83 685.75 L1025.4 671.5 L1025.97 653.45 L1026.73 652.12 L1027.3 660.1 L1028.25 662 L1029.2 658.2 L1030.15 652.12 L1031.1 651.55 L1032.05 656.3 L1033 662 L1033.95 664.85 L1035.28 665.8 L1036.42 666.75 L1037.56 662 L1038.7 652.5 L1040.03 646.8 L1041.55 641.1 L1042.88 636.35 L1044.02 635.4 L1044.97 638.25 L1045.92 636.35 L1047.25 635.4 L1048.58 634.45 L1050.1 637.3 L1051.43 641.1 L1052.57 645.28 L1053.52 645.85 L1054.85 642.05 L1056.18 637.3 L1057.7 633.5 L1059.22 630.65 L1060.55 630.65 L1061.88 626.85 L1063.02 623.05 L1063.97 622.67 L1064.73 625.9 L1065.49 629.7 L1066.25 624 L1067.2 623.62 L1067.96 616.4 L1068.72 612.6 L1069.48 612.03 L1070.05 633.5 L1070.62 662 L1071.19 686.7 L1071.57 698.1 L1072.14 698.1 L1072.71 679.1 L1073.47 677.77 L1074.04 686.7 L1074.61 698.1 L1075.75 698.1 L1076.7 695.82 L1077.84 695.25 L1078.6 697.15 L1079.55 695.25 L1080.12 694.3" fill="none" stroke="#1f77b4" stroke-width="2.08" stroke-linejoin="round" stroke-linecap="butt" clip-path="url(#c2)"/>
<g stroke="#000" stroke-width="2.2" fill="none">
<path d="M150 154.3H1080"/>
<path d="M150 167.35H1080"/>
<path d="M150 193.4H1080"/>
<path d="M150 204.6H1080"/>
<path d="M150 228.8H1080"/>
<path d="M150 243.55H1080"/>
<path d="M150 786.6H1080"/>
<path d="M150 793.9H1080"/>
<path d="M150 803.6H1080"/>
<path d="M150 810.8H1080"/>
<path d="M150 819H1080"/>
</g>
<g font-size="10.6" fill="#000">
<text x="151.6" y="151.9" textLength="22.4" lengthAdjust="spacingAndGlyphs">MAX</text>
<text x="151.6" y="164.95" textLength="13.6" lengthAdjust="spacingAndGlyphs">AN</text>
<text x="151.6" y="191" textLength="13.4" lengthAdjust="spacingAndGlyphs">TR</text>
<text x="151.6" y="202.2" textLength="13.2" lengthAdjust="spacingAndGlyphs">AT</text>
<text x="151.6" y="226.4" textLength="20.6" lengthAdjust="spacingAndGlyphs">UT1</text>
<text x="151.6" y="241.15" textLength="20.6" lengthAdjust="spacingAndGlyphs">UT2</text>
<text x="152" y="785.6" textLength="19.4" lengthAdjust="spacingAndGlyphs">2KP</text>
<text x="152" y="792.9" textLength="19.4" lengthAdjust="spacingAndGlyphs">5KP</text>
<text x="152" y="802.6" textLength="26.4" lengthAdjust="spacingAndGlyphs">10KP</text>
<text x="152" y="809.8" textLength="22.6" lengthAdjust="spacingAndGlyphs">HMP</text>
<text x="152" y="818" textLength="14.6" lengthAdjust="spacingAndGlyphs">MP</text>
</g>
<g stroke="#000" stroke-width="1.1" fill="none">
<path d="M150 120.5H1081"/>
<path d="M150 313.5H1081"/>
<path d="M150 505.5H1081"/>
<path d="M150 698.5H1081"/>
<path d="M150 890.5H1081"/>
<path d="M150.5 120V891"/><path d="M1080.5 120V891"/>
<path d="M150.5 890.5V895.7"/>
<path d="M226.5 890.5V895.7"/>
<path d="M302.5 890.5V895.7"/>
<path d="M378.5 890.5V895.7"/>
<path d="M454.5 890.5V895.7"/>
<path d="M531.5 890.5V895.7"/>
<path d="M607.5 890.5V895.7"/>
<path d="M683.5 890.5V895.7"/>
<path d="M759.5 890.5V895.7"/>
<path d="M835.5 890.5V895.7"/>
<path d="M911.5 890.5V895.7"/>
<path d="M987.5 890.5V895.7"/>
<path d="M1063.5 890.5V895.7"/>
<path d="M145.1 294.5H150.5"/>
<path d="M145.1 275.5H150.5"/>
<path d="M145.1 257.5H150.5"/>
<path d="M145.1 238.5H150.5"/>
<path d="M145.1 219.5H150.5"/>
<path d="M145.1 201.5H150.5"/>
<path d="M145.1 182.5H150.5"/>
<path d="M145.1 164.5H150.5"/>
<path d="M145.1 145.5H150.5"/>
<path d="M145.1 340.5H150.5"/>
<path d="M145.1 377.5H150.5"/>
<path d="M145.1 413.5H150.5"/>
<path d="M145.1 450.5H150.5"/>
<path d="M145.1 487.5H150.5"/>
<path d="M145.1 520.5H150.5"/>
<path d="M145.1 535.5H150.5"/>
<path d="M145.1 549.5H150.5"/>
<path d="M145.1 564.5H150.5"/>
<path d="M145.1 579.5H150.5"/>
<path d="M145.1 594.5H150.5"/>
<path d="M145.1 609.5H150.5"/>
<path d="M145.1 623.5H150.5"/>
<path d="M145.1 638.5H150.5"/>
<path d="M145.1 653.5H150.5"/>
<path d="M145.1 668.5H150.5"/>
<path d="M145.1 683.5H150.5"/>
<path d="M145.1 698.5H150.5"/>
<path d="M145.1 753.5H150.5"/>
<path d="M145.1 808.5H150.5"/>
<path d="M145.1 863.5H150.5"/>
</g>
<g font-size="13.9" fill="#000">
<text x="139.3" y="299.2" text-anchor="end" textLength="25.0" lengthAdjust="spacingAndGlyphs">110</text>
<text x="139.3" y="280.2" text-anchor="end" textLength="25.0" lengthAdjust="spacingAndGlyphs">120</text>
<text x="139.3" y="262.2" text-anchor="end" textLength="25.0" lengthAdjust="spacingAndGlyphs">130</text>
<text x="139.3" y="243.2" text-anchor="end" textLength="25.0" lengthAdjust="spacingAndGlyphs">140</text>
<text x="139.3" y="224.2" text-anchor="end" textLength="25.0" lengthAdjust="spacingAndGlyphs">150</text>
<text x="139.3" y="206.2" text-anchor="end" textLength="25.0" lengthAdjust="spacingAndGlyphs">160</text>
<text x="139.3" y="187.2" text-anchor="end" textLength="25.0" lengthAdjust="spacingAndGlyphs">170</text>
<text x="139.3" y="169.2" text-anchor="end" textLength="25.0" lengthAdjust="spacingAndGlyphs">180</text>
<text x="139.3" y="150.2" text-anchor="end" textLength="25.0" lengthAdjust="spacingAndGlyphs">190</text>
<text x="139.3" y="345.2" text-anchor="end" textLength="29.6" lengthAdjust="spacingAndGlyphs">1:40</text>
<text x="139.3" y="382.2" text-anchor="end" textLength="29.6" lengthAdjust="spacingAndGlyphs">2:00</text>
<text x="139.3" y="418.2" text-anchor="end" textLength="29.6" lengthAdjust="spacingAndGlyphs">2:20</text>
<text x="139.3" y="455.2" text-anchor="end" textLength="29.6" lengthAdjust="spacingAndGlyphs">2:40</text>
<text x="139.3" y="492.2" text-anchor="end" textLength="29.6" lengthAdjust="spacingAndGlyphs">3:00</text>
<text x="139.3" y="525.2" text-anchor="end" textLength="16.4" lengthAdjust="spacingAndGlyphs">38</text>
<text x="139.3" y="540.2" text-anchor="end" textLength="16.4" lengthAdjust="spacingAndGlyphs">36</text>
<text x="139.3" y="554.2" text-anchor="end" textLength="16.4" lengthAdjust="spacingAndGlyphs">34</text>
<text x="139.3" y="569.2" text-anchor="end" textLength="16.4" lengthAdjust="spacingAndGlyphs">32</text>
<text x="139.3" y="584.2" text-anchor="end" textLength="16.4" lengthAdjust="spacingAndGlyphs">30</text>
<text x="139.3" y="599.2" text-anchor="end" textLength="16.4" lengthAdjust="spacingAndGlyphs">28</text>
<text x="139.3" y="614.2" text-anchor="end" textLength="16.4" lengthAdjust="spacingAndGlyphs">26</text>
<text x="139.3" y="628.2" text-anchor="end" textLength="16.4" lengthAdjust="spacingAndGlyphs">24</text>
<text x="139.3" y="643.2" text-anchor="end" textLength="16.4" lengthAdjust="spacingAndGlyphs">22</text>
<text x="139.3" y="658.2" text-anchor="end" textLength="16.4" lengthAdjust="spacingAndGlyphs">20</text>
<text x="139.3" y="673.2" text-anchor="end" textLength="16.4" lengthAdjust="spacingAndGlyphs">18</text>
<text x="139.3" y="688.2" text-anchor="end" textLength="16.4" lengthAdjust="spacingAndGlyphs">16</text>
<text x="139.3" y="703.2" text-anchor="end" textLength="25.0" lengthAdjust="spacingAndGlyphs">400</text>
<text x="139.3" y="758.2" text-anchor="end" textLength="25.0" lengthAdjust="spacingAndGlyphs">300</text>
<text x="139.3" y="813.2" text-anchor="end" textLength="25.0" lengthAdjust="spacingAndGlyphs">200</text>
<text x="139.3" y="868.2" text-anchor="end" textLength="25.0" lengthAdjust="spacingAndGlyphs">100</text>
<text x="150.5" y="911" text-anchor="middle" textLength="29.7" lengthAdjust="spacingAndGlyphs">0:00</text>
<text x="226.5" y="911" text-anchor="middle" textLength="29.7" lengthAdjust="spacingAndGlyphs">0:05</text>
<text x="302.5" y="911" text-anchor="middle" textLength="29.7" lengthAdjust="spacingAndGlyphs">0:10</text>
<text x="378.5" y="911" text-anchor="middle" textLength="29.7" lengthAdjust="spacingAndGlyphs">0:15</text>
<text x="454.5" y="911" text-anchor="middle" textLength="29.7" lengthAdjust="spacingAndGlyphs">0:20</text>
<text x="531.5" y="911" text-anchor="middle" textLength="29.7" lengthAdjust="spacingAndGlyphs">0:25</text>
<text x="607.5" y="911" text-anchor="middle" textLength="29.7" lengthAdjust="spacingAndGlyphs">0:30</text>
<text x="683.5" y="911" text-anchor="middle" textLength="29.7" lengthAdjust="spacingAndGlyphs">0:35</text>
<text x="759.5" y="911" text-anchor="middle" textLength="29.7" lengthAdjust="spacingAndGlyphs">0:40</text>
<text x="835.5" y="911" text-anchor="middle" textLength="29.7" lengthAdjust="spacingAndGlyphs">0:45</text>
<text x="911.5" y="911" text-anchor="middle" textLength="29.7" lengthAdjust="spacingAndGlyphs">0:50</text>
<text x="987.5" y="911" text-anchor="middle" textLength="29.7" lengthAdjust="spacingAndGlyphs">0:55</text>
<text x="1063.5" y="911" text-anchor="middle" textLength="29.7" lengthAdjust="spacingAndGlyphs">1:00</text>
<text x="615" y="930.8" text-anchor="middle" textLength="76.5" lengthAdjust="spacingAndGlyphs">Time (h:m)</text>
<text transform="translate(106.2 218.4) rotate(-90)" text-anchor="middle" textLength="28.2" lengthAdjust="spacingAndGlyphs">BPM</text>
<text transform="translate(101.3 410.6) rotate(-90)" text-anchor="middle" textLength="63" lengthAdjust="spacingAndGlyphs">(sec/500)</text>
<text transform="translate(114.3 603) rotate(-90)" text-anchor="middle" textLength="27" lengthAdjust="spacingAndGlyphs">SPM</text>
<text transform="translate(106 795) rotate(-90)" text-anchor="middle" textLength="38.6" lengthAdjust="spacingAndGlyphs">Watts</text>
</g>
<text x="615" y="111.4" font-size="17" text-anchor="middle" textLength="221.5" lengthAdjust="spacingAndGlyphs">2' intervals (Fused) Drag 0</text>
</svg>
</body></html>
